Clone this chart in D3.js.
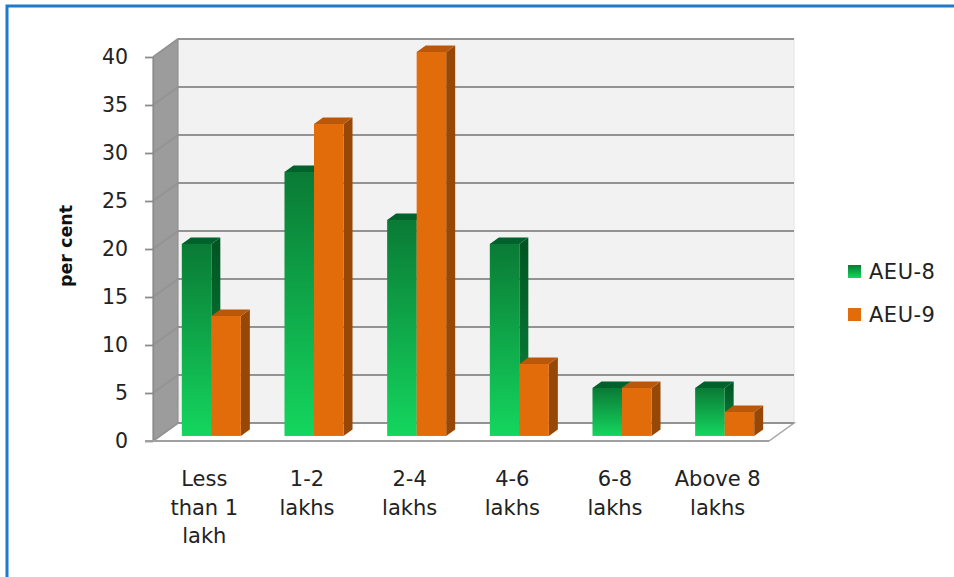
<!DOCTYPE html>
<html>
<head>
<meta charset="utf-8">
<script src="https://cdn.jsdelivr.net/npm/d3@7"></script>
<style>
  body { margin: 0; background: #fff; }
  svg { display: block; font-family: "DejaVu Sans", Verdana, sans-serif; }
  .tick text { font-family: "DejaVu Sans", Verdana, sans-serif; font-size: 20.5px; fill: #222; }
</style>
</head>
<body>
<svg width="954" height="577"></svg>
<script>
// Data
let categories = ['Less than 1 lakh', '1-2 lakhs', '2-4 lakhs', '4-6 lakhs', '6-8 lakhs', 'Above 8 lakhs']
let catLines = [['Less', 'than 1', 'lakh'], ['1-2', 'lakhs'], ['2-4', 'lakhs'], ['4-6', 'lakhs'], ['6-8', 'lakhs'], ['Above 8', 'lakhs']]
let seriesNames = ['AEU-8', 'AEU-9']
let aeu8 = [20, 27.5, 22.5, 20, 5, 5]
let aeu9 = [12.5, 32.5, 40, 7.5, 5, 2.5]
let yTicks = [0, 5, 10, 15, 20, 25, 30, 35, 40]

let svg = d3.select('svg')

// frame
svg.append('rect')
  .attr('x', 7).attr('y', 6)
  .attr('width', 970).attr('height', 600)
  .attr('fill', 'none')
  .attr('stroke', '#1c7ccc')
  .attr('stroke-width', 3)

let plotL = 153, plotR = 769, plotT = 57, plotB = 441
// depth of the box (back wall offset)
let depth = { dx: 25, dy: -18 }
// bars sit inside the box
let barZ0 = 0.28, barZ = 0.36

let y = d3.scaleLinear().domain([0, 40]).range([plotB, plotT])
let x0 = d3.scaleBand().domain(categories).range([plotL, plotR]).paddingInner(0.425).paddingOuter(0.2125)
let x1 = d3.scaleBand().domain(seriesNames).range([0, x0.bandwidth()])

// gradients
let defs = svg.append('defs')
let gFront = defs.append('linearGradient').attr('id', 'greenFront')
  .attr('x1', 0).attr('y1', 0).attr('x2', 0).attr('y2', 1)
gFront.append('stop').attr('offset', '0%').attr('stop-color', '#0a7a35')
gFront.append('stop').attr('offset', '100%').attr('stop-color', '#14d65e')
let gSide = defs.append('linearGradient').attr('id', 'greenSide')
  .attr('x1', 0).attr('y1', 0).attr('x2', 0).attr('y2', 1)
gSide.append('stop').attr('offset', '0%').attr('stop-color', '#005322')
gSide.append('stop').attr('offset', '100%').attr('stop-color', '#0a8a3d')

let colors = {
  'AEU-8': { front: 'url(#greenFront)', side: 'url(#greenSide)', top: '#00612a' },
  'AEU-9': { front: '#e36c0a', side: '#974806', top: '#b9570a' }
}

// walls
let walls = svg.append('g').attr('class', 'walls')
walls.append('rect')
  .attr('x', plotL + depth.dx).attr('y', plotT + depth.dy)
  .attr('width', plotR - plotL).attr('height', plotB - plotT)
  .attr('fill', '#f2f2f2')
  .attr('stroke', '#e4e4e4')

walls.append('path')
  .attr('d', `M${plotL},${plotT}L${plotL + depth.dx},${plotT + depth.dy}L${plotL + depth.dx},${plotB + depth.dy}L${plotL},${plotB}Z`)
  .attr('fill', '#9c9c9c')
  .attr('stroke', '#8c8c8c')

walls.append('path')
  .attr('d', `M${plotL},${plotB}L${plotR},${plotB}L${plotR + depth.dx},${plotB + depth.dy}L${plotL + depth.dx},${plotB + depth.dy}Z`)
  .attr('fill', '#ffffff')
  .attr('stroke', '#a6a6a6')
  .attr('stroke-width', 1.5)

// gridlines on back and side wall
let grid = svg.append('g').attr('class', 'grid')
grid.selectAll('path')
  .data(yTicks)
  .enter()
  .append('path')
  .attr('d', d => `M${plotL},${y(d)}L${plotL + depth.dx},${y(d) + depth.dy}L${plotR + depth.dx},${y(d) + depth.dy}`)
  .attr('fill', 'none')
  .attr('stroke', '#939393')
  .attr('stroke-width', 1.8)

// y axis
let yAxis = d3.axisLeft(y)
  .tickValues(yTicks)
  .tickSize(8)
  .tickSizeOuter(0)
  .tickPadding(17)

let yG = svg.append('g')
  .attr('transform', `translate(${plotL},0)`)
  .call(yAxis)
  .attr('font-family', null)
yG.select('.domain').attr('stroke', '#8c8c8c').attr('stroke-width', 1.5)
yG.selectAll('.tick line').attr('stroke', '#8c8c8c').attr('stroke-width', 1.8)

// front floor edge
svg.append('line')
  .attr('x1', plotL - 8).attr('x2', plotR)
  .attr('y1', plotB).attr('y2', plotB)
  .attr('stroke', '#a0a0a0')
  .attr('stroke-width', 1.8)

// bars
let barData = []
categories.forEach((c, i) => {
  barData.push({ cat: c, name: 'AEU-8', value: aeu8[i] })
  barData.push({ cat: c, name: 'AEU-9', value: aeu9[i] })
})

let ox = depth.dx * barZ0, oy = depth.dy * barZ0
let bdx = depth.dx * barZ, bdy = depth.dy * barZ

let bars = svg.append('g').attr('class', 'bars')
  .selectAll('g')
  .data(barData)
  .enter()
  .append('g')

bars.each(function (d) {
  let g = d3.select(this)
  let xl = x0(d.cat) + x1(d.name) + ox
  let xr = xl + x1.bandwidth()
  let yt = y(d.value) + oy
  let yb = y(0) + oy
  let c = colors[d.name]
  g.append('path')
    .attr('d', `M${xr},${yt}L${xr + bdx},${yt + bdy}L${xr + bdx},${yb + bdy}L${xr},${yb}Z`)
    .attr('fill', c.side)
  g.append('path')
    .attr('d', `M${xl},${yt}L${xl + bdx},${yt + bdy}L${xr + bdx},${yt + bdy}L${xr},${yt}Z`)
    .attr('fill', c.top)
  g.append('rect')
    .attr('x', xl).attr('y', yt)
    .attr('width', x1.bandwidth()).attr('height', yb - yt)
    .attr('fill', c.front)
})

// x labels
let xLab = svg.append('g').attr('class', 'x-labels')
  .selectAll('text')
  .data(categories)
  .enter()
  .append('text')
  .attr('text-anchor', 'middle')
  .attr('font-size', 21)
  .attr('fill', '#222')

xLab.each(function (d, i) {
  d3.select(this).selectAll('tspan')
    .data(catLines[i])
    .enter()
    .append('tspan')
    .attr('x', x0(d) + x0.bandwidth() / 2)
    .attr('y', (t, j) => 486 + j * 28.5)
    .text(t => t)
})

// y title
svg.append('text')
  .text('per cent')
  .attr('transform', 'translate(72,246) rotate(-90)')
  .attr('text-anchor', 'middle')
  .attr('font-size', 17.5)
  .attr('font-weight', 'bold')
  .attr('fill', '#111')

// legend
let legend = svg.append('g').attr('class', 'legend')
  .selectAll('g')
  .data(seriesNames)
  .enter()
  .append('g')
  .attr('transform', (d, i) => `translate(848,${265 + i * 43})`)

legend.append('rect')
  .attr('width', 13).attr('height', 13)
  .attr('fill', d => colors[d].front)

legend.append('text')
  .text(d => d)
  .attr('x', 21)
  .attr('y', 14)
  .attr('font-size', 21)
  .attr('letter-spacing', 0.5)
  .attr('fill', '#222')
</script>
</body>
</html>
